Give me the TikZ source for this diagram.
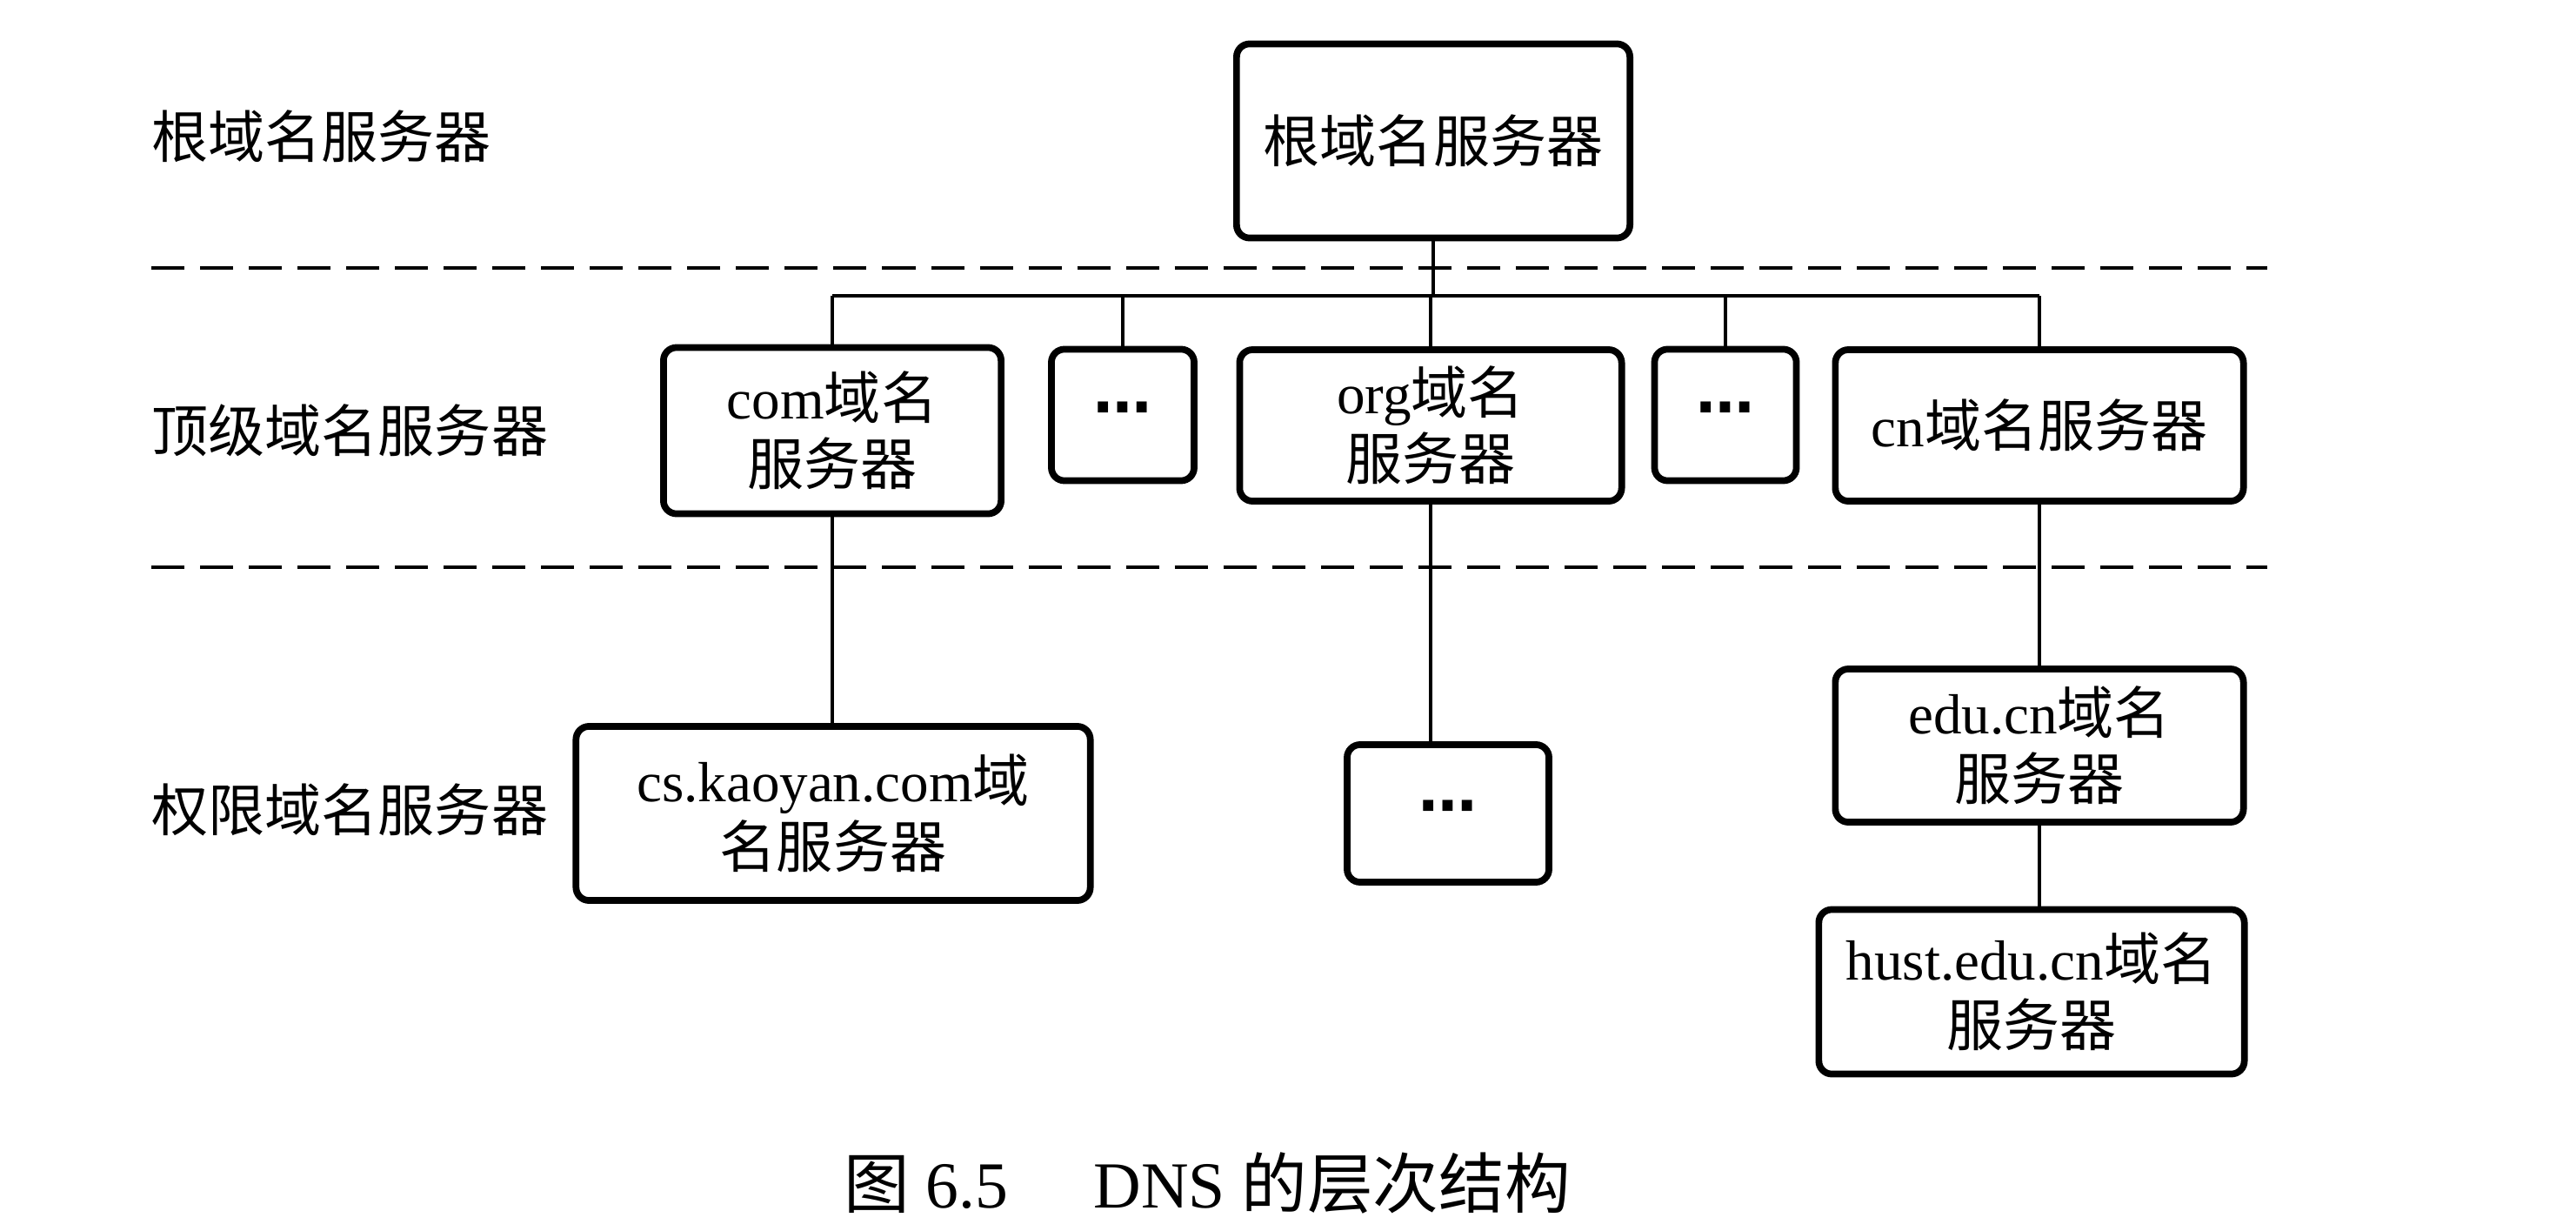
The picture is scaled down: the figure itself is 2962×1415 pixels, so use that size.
\documentclass[tikz,border=0pt]{standalone}
\usepackage{fontspec}
\setmainfont{Liberation Serif}
\newfontfamily\cjk{Noto Sans CJK SC}
\newfontfamily\dvfont{DejaVu Sans}
\newcommand{\mydots}{{\dvfont\bfseries\fontsize{19}{19}\selectfont ⋯}}
\begin{document}
\begin{tikzpicture}[x=0.01cm,y=-0.01cm,
  box/.style={draw, line width=2.2pt, rounded corners=0.15cm, align=center, inner sep=0pt,
    font=\fontsize{18.5}{21.6}\selectfont},
  conn/.style={line width=1pt},
  sep/.style={line width=1.2pt, dash pattern=on 0.38cm off 0.18cm},
  lbl/.style={anchor=west, inner sep=0pt, font=\fontsize{18.5}{21.6}\selectfont\cjk}]
\useasboundingbox (0,0) rectangle (2962,1415);
% layer labels
\node[lbl] (l1) at (174,157) {根域名服务器};
\node[lbl] (l2) at (174,495) {顶级域名服务器};
\node[lbl] (l3) at (174,931) {权限域名服务器};
% dashed separators
\coordinate (d1a) at (174,308); \coordinate (d1b) at (2607,308);
\coordinate (d2a) at (174,652); \coordinate (d2b) at (2607,652);
\draw[sep] (d1a) -- (d1b);
\draw[sep] (d2a) -- (d2b);
% boxes
\node[box, minimum width=4.52cm, minimum height=2.23cm] (root) at (1648,162) {\cjk 根域名服务器};
\node[box, minimum width=3.88cm, minimum height=1.91cm] (com) at (957,495) {com{\cjk 域名}\\{\cjk 服务器}};
\node[box, minimum width=1.64cm, minimum height=1.51cm] (dotsA) at (1291,477) {\mydots};
\node[box, minimum width=4.39cm, minimum height=1.74cm] (org) at (1645,489) {org{\cjk 域名}\\{\cjk 服务器}};
\node[box, minimum width=1.63cm, minimum height=1.51cm] (dotsB) at (1984,477) {\mydots};
\node[box, minimum width=4.69cm, minimum height=1.74cm] (cn) at (2345,489) {cn{\cjk 域名服务器}};
\node[box, minimum width=5.91cm, minimum height=2.00cm] (cs) at (958,935) {cs.kaoyan.com{\cjk 域}\\{\cjk 名服务器}};
\node[box, minimum width=2.32cm, minimum height=1.58cm] (dotsC) at (1665,935) {\mydots};
\node[box, minimum width=4.69cm, minimum height=1.76cm] (edu) at (2345,857) {edu.cn{\cjk 域名}\\{\cjk 服务器}};
\node[box, minimum width=4.89cm, minimum height=1.89cm] (hust) at (2336,1140) {hust.edu.cn{\cjk 域名}\\{\cjk 服务器}};
% bus
\coordinate (busL) at (957,340);
\coordinate (busR) at (2345,340);
\draw[conn] (busL) -- (busR);
\draw[conn] (root.south) -- (root.south |- busL);
\draw[conn] (com.north) -- (com.north |- busL);
\draw[conn] (dotsA.north) -- (dotsA.north |- busL);
\draw[conn] (org.north) -- (org.north |- busL);
\draw[conn] (dotsB.north) -- (dotsB.north |- busL);
\draw[conn] (cn.north) -- (cn.north |- busL);
% lower links
\draw[conn] (com.south) -- (com.south |- cs.north);
\draw[conn] (org.south) -- (org.south |- dotsC.north);
\draw[conn] (cn.south) -- (edu.north);
\draw[conn] (edu.south) -- (edu.south |- hust.north);
% caption
\node[inner sep=0pt, font=\fontsize{21.5}{24}\selectfont] (cap) at (1388,1360) {{\cjk 图} 6.5\hspace{1.3em}DNS {\cjk 的层次结构}};
\end{tikzpicture}
\end{document}
